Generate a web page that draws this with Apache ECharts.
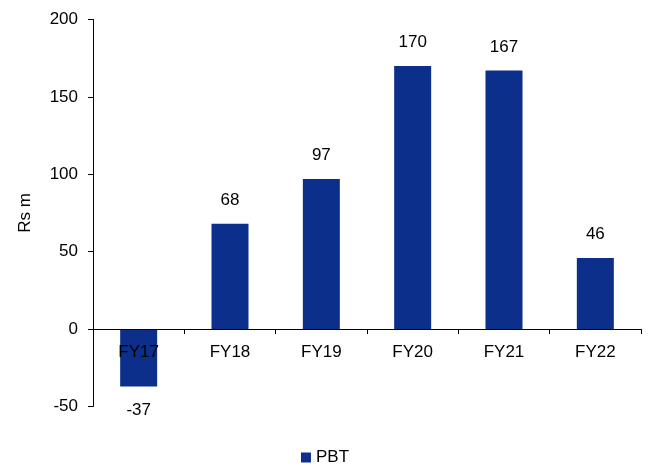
<!DOCTYPE html>
<html>
<head>
<meta charset="utf-8">
<script src="https://cdn.jsdelivr.net/npm/echarts@6/dist/echarts.min.js"></script>
<style>html,body{margin:0;padding:0;background:#fff}#c{width:650px;height:466px}</style>
</head>
<body>
<div id="c"></div>
<script>
const categories = ['FY17', 'FY18', 'FY19', 'FY20', 'FY21', 'FY22'];
const pbt = [-37, 68, 97, 170, 167, 46];
const yTicks = { min: -50, max: 200, interval: 50 };

const font = 'Arial, "Liberation Sans", sans-serif';
const fs = 17;
const chart = echarts.init(document.getElementById('c'), null, { renderer: 'canvas' });
chart.setOption({
  animation: false,
  textStyle: { fontFamily: font, color: '#000' },
  grid: { left: 93, right: 9, top: 19.5, bottom: 59.5, containLabel: false },
  legend: {
    data: ['PBT'],
    top: 444,
    left: 'center',
    icon: 'rect',
    itemWidth: 10,
    itemHeight: 10,
    itemGap: 4,
    textStyle: { fontSize: fs, color: '#000', fontFamily: font }
  },
  xAxis: {
    type: 'category',
    data: categories,
    z: 5,
    axisLine: { onZero: true, lineStyle: { color: '#000', width: 1 } },
    axisTick: { show: true, length: 5, lineStyle: { color: '#000' } },
    axisLabel: { fontSize: fs, color: '#000', margin: -63, fontFamily: font },
    splitLine: { show: false }
  },
  yAxis: {
    type: 'value',
    min: yTicks.min,
    max: yTicks.max,
    interval: yTicks.interval,
    name: 'Rs m',
    nameLocation: 'middle',
    nameGap: 59,
    nameTextStyle: { fontSize: fs, color: '#000', fontFamily: font },
    axisLine: { show: true, lineStyle: { color: '#000', width: 1 } },
    axisTick: { show: true, length: 5, lineStyle: { color: '#000' } },
    axisLabel: { fontSize: fs, color: '#000', margin: 15, fontFamily: font },
    splitLine: { show: false }
  },
  series: [{
    name: 'PBT',
    type: 'bar',
    data: pbt,
    barWidth: 37,
    itemStyle: { color: '#0b2f8a' },
    label: {
      show: true,
      position: 'outside',
      distance: 15,
      fontSize: fs,
      color: '#000',
      fontFamily: font
    }
  }]
});
</script>
</body>
</html>
